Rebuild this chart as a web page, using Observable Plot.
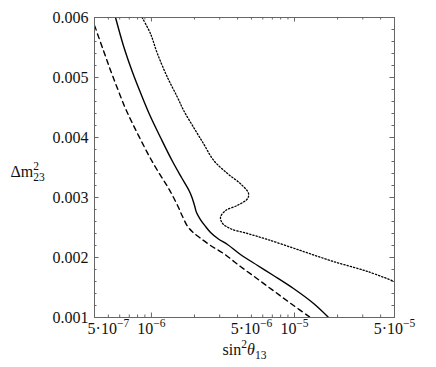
<!DOCTYPE html>
<html><head><meta charset="utf-8">
<script src="https://cdn.jsdelivr.net/npm/d3@7"></script>
<script src="https://cdn.jsdelivr.net/npm/@observablehq/plot@0.6"></script>
<style>html,body{margin:0;padding:0;background:#fff} svg{display:block} svg text{font-family:"Liberation Serif","Times New Roman",serif}</style>
</head><body><div id="chart"></div>
<script>
// ---- data ----
const dashedX = [4.00e-7, 4.62e-7, 5.18e-7, 5.79e-7, 6.49e-7, 7.26e-7, 8.39e-7, 9.85e-7, 1.157e-6, 1.295e-6, 1.415e-6, 1.534e-6, 1.65e-6, 1.79e-6, 1.94e-6, 2.17e-6, 2.59e-6, 3.19e-6, 4.19e-6, 5.52e-6, 7.25e-6, 9.53e-6, 1.29e-5];
const dashedY = [0.005867, 0.00545, 0.005117, 0.004817, 0.004517, 0.004267, 0.003967, 0.00365, 0.003367, 0.003183, 0.003017, 0.00285, 0.002683, 0.002517, 0.002425, 0.002333, 0.0022, 0.002067, 0.00185, 0.001642, 0.001433, 0.001225, 0.001];

const solidX = [5.61e-7, 6.43e-7, 7.43e-7, 8.43e-7, 9.77e-7, 1.167e-6, 1.393e-6, 1.623e-6, 1.831e-6, 1.921e-6, 2.00e-6, 2.066e-6, 2.20e-6, 2.39e-6, 2.59e-6, 2.94e-6, 3.40e-6, 4.19e-6, 5.52e-6, 7.13e-6, 9.84e-6, 1.36e-5, 1.73e-5];
const solidY = [0.006, 0.0055, 0.005067, 0.004733, 0.004367, 0.003983, 0.003617, 0.003333, 0.003117, 0.003, 0.002867, 0.00275, 0.002633, 0.002517, 0.002417, 0.002308, 0.002217, 0.00205, 0.001867, 0.0017, 0.001483, 0.001233, 0.001];

const dottedX = [8.6e-7, 9.85e-7, 1.10e-6, 1.295e-6, 1.52e-6, 1.68e-6, 1.97e-6, 2.31e-6, 2.72e-6, 3.40e-6, 4.19e-6, 4.77e-6, 4.69e-6, 4.00e-6, 3.29e-6, 3.04e-6, 3.14e-6, 3.57e-6, 4.69e-6, 6.48e-6, 1.10e-5, 1.87e-5, 3.24e-5, 5.0e-5];
const dottedY = [0.006, 0.00573, 0.0054, 0.005, 0.00467, 0.00445, 0.00417, 0.0039, 0.00362, 0.0034, 0.00323, 0.00307, 0.00298, 0.00287, 0.00278, 0.00267, 0.00257, 0.00248, 0.0024, 0.0023, 0.002117, 0.001933, 0.001767, 0.0016];

const xTickValues = [5e-7, 1e-6, 5e-6, 1e-5, 5e-5];
const xTickLabels = ["5·10^{−7}", "10^{−6}", "5·10^{−6}", "10^{−5}", "5·10^{−5}"];
const xMajorTicks = [1e-6, 1e-5];
const xMinorTicks = [4e-7, 5e-7, 6e-7, 7e-7, 8e-7, 9e-7, 2e-6, 3e-6, 4e-6, 5e-6, 6e-6, 7e-6, 8e-6, 9e-6, 2e-5, 3e-5, 4e-5];
const yTickValues = [0.001, 0.002, 0.003, 0.004, 0.005, 0.006];
const yTickLabels = ["0.001", "0.002", "0.003", "0.004", "0.005", "0.006"];
const yMinorTicks = [0.0012, 0.0014, 0.0016, 0.0018, 0.0022, 0.0024, 0.0026, 0.0028, 0.0032, 0.0034, 0.0036, 0.0038, 0.0042, 0.0044, 0.0046, 0.0048, 0.0052, 0.0054, 0.0056, 0.0058];
const xLabel = "sin^{2}θ_{13}";
const yLabel = "Δm^{2}_{23}";

// ---- tables built from the arrays ----
const dashed = dashedX.map((x, i) => ({x, y: dashedY[i]}));
const solid = solidX.map((x, i) => ({x, y: solidY[i]}));
const dotted = dottedX.map((x, i) => ({x, y: dottedY[i]}));
const xTicks = xTickValues.map((v, i) => ({v, label: xTickLabels[i]}));
const yTicks = yTickValues.map((v, i) => ({v, label: yTickLabels[i]}));

const W = 436, H = 367, mL = 94, mR = 42, mT = 17, mB = 50;
const ih = H - mT - mB, iw = W - mL - mR;
const axisColor = "#666";
const font = "Liberation Serif, Times New Roman, serif";
const MAJ = 4.5, MIN = 2.5;
const txt = {fontSize: 16, fill: "#111", fontFamily: font};

const chart = Plot.plot({
  width: W, height: H,
  marginLeft: mL, marginRight: mR, marginTop: mT, marginBottom: mB,
  x: {type: "log", domain: [4e-7, 5e-5], axis: null},
  y: {domain: [0.001, 0.006], axis: null},
  style: {fontFamily: font, fontSize: "16px", color: "#111", background: "#fff"},
  marks: [
    Plot.line(dashed, {x: "x", y: "y", stroke: "#000", strokeWidth: 1.4, strokeDasharray: "5,4", curve: "catmull-rom", clip: true}),
    Plot.line(solid, {x: "x", y: "y", stroke: "#000", strokeWidth: 1.4, curve: "catmull-rom", clip: true}),
    Plot.line(dotted, {x: "x", y: "y", stroke: "#000", strokeWidth: 1.3, strokeDasharray: "1.3,2", curve: "catmull-rom", clip: true}),
    // ticks (inward, all four sides)
    Plot.tickX(xMinorTicks, {x: d => d, insetTop: ih - MIN, stroke: axisColor}),
    Plot.tickX(xMinorTicks, {x: d => d, insetBottom: ih - MIN, stroke: axisColor}),
    Plot.tickX(xMajorTicks, {x: d => d, insetTop: ih - MAJ, stroke: axisColor}),
    Plot.tickX(xMajorTicks, {x: d => d, insetBottom: ih - MAJ, stroke: axisColor}),
    Plot.tickY(yMinorTicks, {y: d => d, insetRight: iw - MIN, stroke: axisColor}),
    Plot.tickY(yMinorTicks, {y: d => d, insetLeft: iw - MIN, stroke: axisColor}),
    Plot.tickY(yTickValues, {y: d => d, insetRight: iw - MAJ, stroke: axisColor}),
    Plot.tickY(yTickValues, {y: d => d, insetLeft: iw - MAJ, stroke: axisColor}),
    Plot.frame({stroke: axisColor}),
    // tick labels
    Plot.text(xTicks, {x: "v", text: "label", frameAnchor: "bottom", dy: 16, ...txt}),
    Plot.text(yTicks, {y: "v", text: "label", frameAnchor: "left", dx: -6, textAnchor: "end", ...txt}),
    // axis labels
    Plot.text([xLabel], {text: d => d, frameAnchor: "bottom", dy: 37, ...txt}),
    Plot.text([yLabel], {text: d => d, frameAnchor: "left", dx: -84, dy: 4, textAnchor: "start", ...txt})
  ]
});
document.getElementById("chart").appendChild(chart);

// ---- turn ^{..} / _{..} markup into real super/subscript tspans ----
const NS = "http://www.w3.org/2000/svg";
function richify(svg) {
  for (const t of svg.querySelectorAll("text")) {
    const s = t.textContent;
    if (!/[\^_θ]/.test(s)) continue;
    const fs = parseFloat(getComputedStyle(t).fontSize) || 16;
    t.textContent = "";
    const tokens = s.split(/(\^\{[^}]*\}|_\{[^}]*\})/).filter(x => x);
    let shift = 0, lastSup = null;
    for (const tok of tokens) {
      let str = tok, target = 0, size = null, kind = "n";
      if (tok.startsWith("^{")) { str = tok.slice(2, -1); target = -0.42 * fs; size = 0.72 * fs; kind = "sup"; }
      else if (tok.startsWith("_{")) { str = tok.slice(2, -1); target = 0.28 * fs; size = 0.72 * fs; kind = "sub"; }
      const pieces = kind === "n" ? str.split(/(θ)/).filter(x => x) : [str];
      let first = true;
      for (const p of pieces) {
        const ts = document.createElementNS(NS, "tspan");
        ts.textContent = p;
        if (size) ts.setAttribute("font-size", size);
        if (p === "θ") ts.setAttribute("font-style", "italic");
        if (first) {
          ts.setAttribute("dy", target - shift);
          if (kind === "sub" && lastSup) ts.setAttribute("dx", -lastSup.getComputedTextLength());
        }
        t.appendChild(ts);
        first = false;
      }
      shift = target;
      lastSup = kind === "sup" ? t.lastChild : null;
    }
  }
}
richify(chart);
</script>
</body></html>
